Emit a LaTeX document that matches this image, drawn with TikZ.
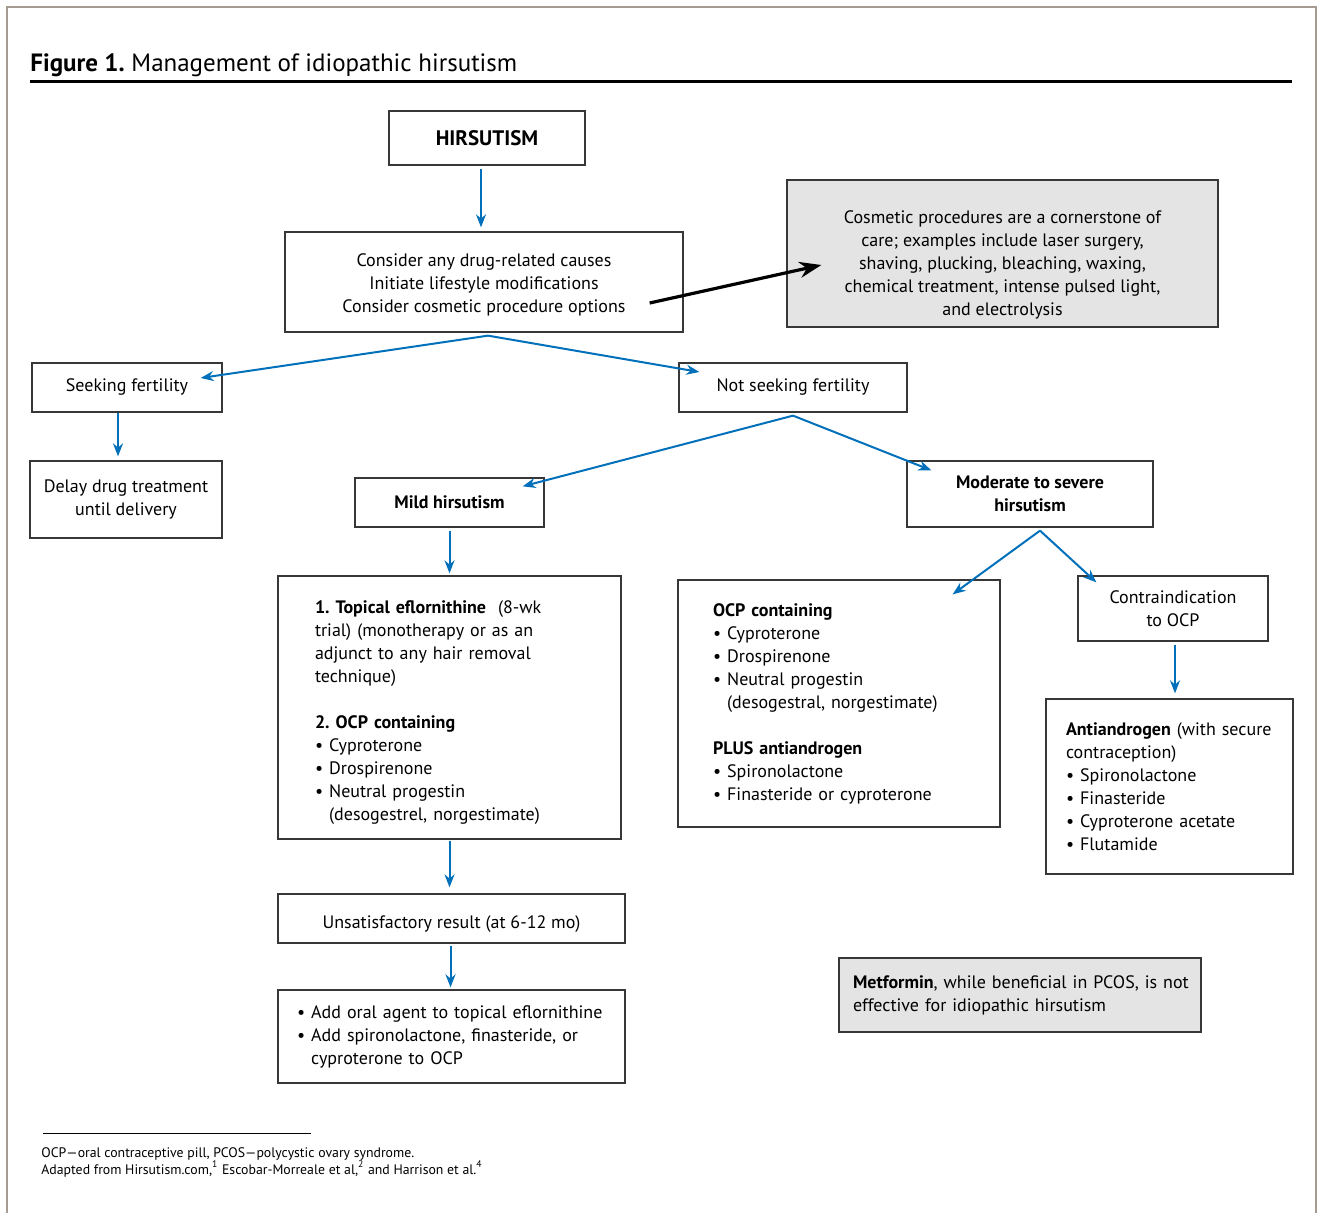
\documentclass[tikz,border=0pt]{standalone}
\usepackage{fontspec}
\setmainfont{PT Sans}
\usetikzlibrary{arrows.meta,calc}

\definecolor{flowblue}{RGB}{0,112,186}
\definecolor{boxgray}{RGB}{228,228,228}
\definecolor{boxline}{RGB}{55,55,55}
\definecolor{framecol}{RGB}{165,155,145}

\newcommand{\bul}{\textbullet\ }
\newcommand{\hng}{\phantom{\textbullet\ }}
\frenchspacing

\begin{document}
\begin{tikzpicture}[x=0.5pt,y=-0.5pt,
    box/.style={draw=boxline,line width=0.65pt,inner sep=0pt,align=center,
      font=\fontsize{9}{11.5}\selectfont},
    boldbox/.style={box,font=\fontsize{9}{11.5}\selectfont\bfseries},
    listbox/.style={box,align=left},
    flow/.style={flowblue,line width=1pt,-{Stealth[length=6.5pt,width=5pt]}},
    bigflow/.style={black,line width=1.6pt,-{Stealth[length=11pt,width=8pt]}}]
    \useasboundingbox (0,0) rectangle (1320,1213);
    \draw[framecol,line width=0.6pt] (7,1213) -- (7,7) -- (1316,7) -- (1316,1213);

    % heading
    \node[anchor=base west,inner sep=0pt,font=\fontsize{12.5}{14}\selectfont] (title) at (30,72)
      {\textbf{Figure 1.} Management of idiopathic hirsutism};
    \draw[line width=1.5pt] (30,82) -- (1292,82);

    % top of the chart
    \node[box,minimum width=98pt,minimum height=27pt,font=\fontsize{10.5}{12}\selectfont\bfseries] (hirs) at (487,138) {HIRSUTISM};
    \node[box,minimum width=199pt,minimum height=50pt,text height=32pt] (cons) at (484,282)
      {Consider any drug-related causes\\Initiate lifestyle modifications\\Consider cosmetic procedure options};
    \node[box,fill=boxgray,minimum width=215.5pt,minimum height=73.5pt,text height=63.5pt] (cosm) at (1002.5,253.5)
      {Cosmetic procedures are a cornerstone of\\care; examples include laser surgery,\\shaving, plucking, bleaching, waxing,\\chemical treatment, intense pulsed light,\\and electrolysis};
    \node[box,minimum width=95pt,minimum height=24.5pt] (seek) at (127,387.5) {Seeking fertility};
    \node[box,minimum width=114pt,minimum height=24.5pt] (nseek) at (793,387.5) {Not seeking fertility};
    \node[box,minimum width=96pt,minimum height=38.5pt] (delay) at (126,499.5) {Delay drug treatment\\until delivery};
    \node[boldbox,minimum width=94.5pt,minimum height=24.5pt] (mild) at (449.5,502.5) {Mild hirsutism};
    \node[boldbox,minimum width=123pt,minimum height=33pt] (modsev) at (1030,494) {Moderate to severe\\hirsutism};

    % mild branch
    \node[listbox,text width=134.5pt,minimum width=171.5pt,minimum height=131.5pt,text height=11.5pt] (mildrx) at (449.5,707.5)
      {\textbf{1. Topical eflornithine}\ \ (8-wk\\trial) (monotherapy or as an\\adjunct to any hair removal\\technique)\\[11.5pt]
       \textbf{2. OCP containing}\\\bul Cyproterone\\\bul Drospirenone\\\bul Neutral progestin\\\hng(desogestrel, norgestimate)};
    \node[box,minimum width=173.5pt,minimum height=24.5pt,text height=12pt] (unsat) at (451.5,918.5) {Unsatisfactory result (at 6-12 mo)};
    \node[listbox,text width=154.5pt,minimum width=173.5pt,minimum height=46.5pt] (addrx) at (451.5,1036.5)
      {\bul Add oral agent to topical eflornithine\\\bul Add spironolactone, finasteride, or\\\hng cyproterone to OCP};

    % moderate to severe branch
    \node[listbox,text width=126pt,minimum width=161pt,minimum height=123.5pt] (ocp) at (839,703.5)
      {\textbf{OCP containing}\\\bul Cyproterone\\\bul Drospirenone\\\bul Neutral progestin\\\hng(desogestral, norgestimate)\\[11.5pt]
       \textbf{PLUS antiandrogen}\\\bul Spironolactone\\\bul Finasteride or cyproterone};
    \node[box,minimum width=95pt,minimum height=32.5pt] (contra) at (1173,608.5) {Contraindication\\to OCP};
    \node[listbox,text width=103.5pt,minimum width=123.5pt,minimum height=87.5pt] (anti) at (1169.5,786.5)
      {\mbox{\textbf{Antiandrogen} (with secure}\\contraception)\\\bul Spironolactone\\\bul Finasteride\\\bul Cyproterone acetate\\\bul Flutamide};
    \node[listbox,fill=boxgray,text width=167pt,minimum width=181pt,minimum height=37pt] (metf) at (1020,995)
      {\mbox{\textbf{Metformin}, while beneficial in PCOS, is not}\\effective for idiopathic hirsutism};

    % arrows
    \draw[flow] ($(hirs.south)+(-6,3)$) -- ($(cons.north)+(-3,-4)$);
    \draw[bigflow] ($(cons.east)+(-34,21)$) -- ($(cosm.west)+(35,11.5)$);
    \draw[flow] ($(cons.south)+(4,3)$) -- ($(seek.east)+(-22,-9.5)$);
    \draw[flow] ($(cons.south)+(4,3)$) -- ($(nseek.west)+(21,-15.5)$);
    \draw[flow] ($(seek.south)+(-9,0)$) -- ($(delay.north)+(-8,-4)$);
    \draw[flow] ($(nseek.south)+(0,3)$) -- ($(mild.north east)+(-22,9)$);
    \draw[flow] ($(nseek.south)+(0,3)$) -- ($(modsev.north west)+(25,10)$);
    \draw[flow] ($(mild.south)+(0,3)$) -- ($(mildrx.north)+(0,-2)$);
    \draw[flow] ($(mildrx.south)+(0,1)$) -- ($(unsat.north)+(-2,-6)$);
    \draw[flow] ($(unsat.south)+(-1,2)$) -- ($(addrx.north)+(-1,-2)$);
    \draw[flow] ($(modsev.south)+(10,3)$) -- ($(ocp.north east)+(-48,15)$);
    \draw[flow] ($(modsev.south)+(10,3)$) -- ($(contra.north west)+(19,7)$);
    \draw[flow] ($(contra.south)+(2,3)$) -- ($(anti.north)+(5.5,-5)$);

    % footnote
    \draw[line width=0.5pt] (43,1133) -- (311,1133);
    \node[anchor=base west,inner sep=0pt,align=left,font=\fontsize{6.9}{8.5}\selectfont] (note) at (41,1174)
      {OCP—oral contraceptive pill, PCOS—polycystic ovary syndrome.\\Adapted from Hirsutism.com,\textsuperscript{1} Escobar-Morreale et al,\textsuperscript{2} and Harrison et al.\textsuperscript{4}};
\end{tikzpicture}
\end{document}
